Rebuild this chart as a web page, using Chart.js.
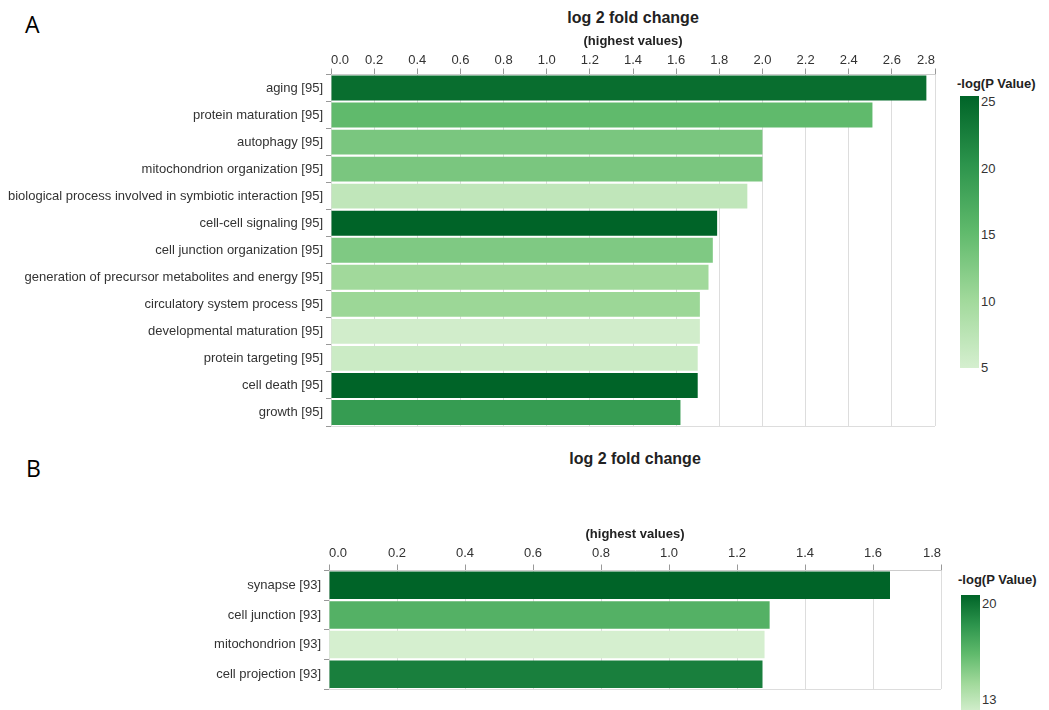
<!DOCTYPE html>
<html lang="en">
<head>
    <meta charset="UTF-8">
    <title>log 2 fold change</title>
    <style>
        body {
            margin: 0;
            padding: 0;
            background: #fff;
            font-family: "Liberation Sans", Arial, sans-serif;
            overflow: hidden;
        }
        #wrap {
            position: relative;
            width: 1049px;
            height: 710px;
            overflow: hidden;
        }
        .letter {
            position: absolute;
            font-family: "Open Sans", "Liberation Sans", sans-serif;
            font-size: 23px;
            color: #000;
        }
        .title {
            position: absolute;
            width: 300px;
            text-align: center;
            font-size: 16px;
            font-weight: bold;
            line-height: 20px;
            color: #222;
        }
        .box {
            position: absolute;
            left: 0;
        }
        .legend-title {
            position: absolute;
            font-size: 13px;
            font-weight: bold;
            color: #222;
            white-space: nowrap;
        }
        .colorbar {
            position: absolute;
            width: 19px;
        }
        .legend-label {
            position: absolute;
            font-size: 13px;
            color: #333;
            line-height: 14px;
        }
    </style>
    <script src="https://cdn.jsdelivr.net/npm/chart.js"></script>
</head>
<body>
<div id="wrap">
    <div class="letter" style="left:25px; top:8px;">A</div>
    <div class="title" style="left:483px; top:8px;">log 2 fold change</div>
    <div class="box" style="top:0;"><canvas id="chartA" width="945" height="440"></canvas></div>
    <div class="legend-title" style="left:957px; top:76px;">-log(P Value)</div>
    <div class="colorbar" id="barA" style="left:960px; top:96px; height:272px;"></div>
    <div id="labelsA"></div>

    <div class="letter" style="left:26px; top:452px;">B</div>
    <div class="title" style="left:485px; top:449px;">log 2 fold change</div>
    <div class="box" style="top:440px;"><canvas id="chartB" width="951" height="270"></canvas></div>
    <div class="legend-title" style="left:958px; top:572px;">-log(P Value)</div>
    <div class="colorbar" id="barB" style="left:961px; top:595px; height:118px;"></div>
    <div id="labelsB"></div>
</div>

<script>
    // Panel A - biological process
    const categoriesA = [
        'aging [95]',
        'protein maturation [95]',
        'autophagy [95]',
        'mitochondrion organization [95]',
        'biological process involved in symbiotic interaction [95]',
        'cell-cell signaling [95]',
        'cell junction organization [95]',
        'generation of precursor metabolites and energy [95]',
        'circulatory system process [95]',
        'developmental maturation [95]',
        'protein targeting [95]',
        'cell death [95]',
        'growth [95]'
    ];
    const foldChangeA = [2.76, 2.51, 2.00, 2.00, 1.93, 1.79, 1.77, 1.75, 1.71, 1.71, 1.70, 1.70, 1.62];
    const negLogPA = [24, 15, 13, 13, 7, 25, 12.6, 10, 10.4, 5.4, 6, 25, 19];
    const pRangeA = [5, 25];
    const legendTicksA = [25, 20, 15, 10, 5];

    // Panel B - cellular component
    const categoriesB = ['synapse [93]', 'cell junction [93]', 'mitochondrion [93]', 'cell projection [93]'];
    const foldChangeB = [1.65, 1.296, 1.281, 1.275];
    const negLogPB = [20, 16.9, 13, 19];
    const pRangeB = [13, 20];
    const legendTicksB = [20, 13];

    // greens colour ramp, light -> dark
    const greens = [
        [213, 239, 207],
        [161, 217, 155],
        [96, 186, 108],
        [44, 148, 76],
        [0, 100, 40]
    ];

    function greenAt(t) {
        t = Math.max(0, Math.min(1, t));
        const pos = t * (greens.length - 1);
        const i = Math.min(Math.floor(pos), greens.length - 2);
        const f = pos - i;
        const a = greens[i], b = greens[i + 1];
        const c = a.map((v, k) => Math.round(v + (b[k] - v) * f));
        return 'rgb(' + c.join(',') + ')';
    }

    function gradientCss() {
        const stops = [];
        for (let i = greens.length - 1; i >= 0; i--) {
            stops.push('rgb(' + greens[i].join(',') + ')');
        }
        return 'linear-gradient(to bottom, ' + stops.join(', ') + ')';
    }

    // light line along the bottom of the plot
    const frameLine = {
        id: 'frameLine',
        beforeDatasetsDraw(chart) {
            const a = chart.chartArea;
            const ctx = chart.ctx;
            ctx.save();
            ctx.strokeStyle = '#dddddd';
            ctx.lineWidth = 1;
            ctx.beginPath();
            ctx.moveTo(a.left, Math.round(a.bottom) + 0.5);
            ctx.lineTo(a.right, Math.round(a.bottom) + 0.5);
            ctx.stroke();
            ctx.restore();
        }
    };

    function makeChart(id, categories, values, pvals, prange, opts) {
        const colors = pvals.map(v => greenAt((v - prange[0]) / (prange[1] - prange[0])));
        const ctx = document.getElementById(id).getContext('2d');
        return new Chart(ctx, {
            type: 'bar',
            data: {
                labels: categories,
                datasets: [{
                    data: values,
                    backgroundColor: colors,
                    borderWidth: 0,
                    barPercentage: 1,
                    categoryPercentage: opts.catPct
                }]
            },
            plugins: [frameLine],
            options: {
                indexAxis: 'y',
                responsive: false,
                animation: false,
                layout: {
                    padding: { top: opts.padTop, right: opts.padRight, bottom: opts.padBottom, left: 0 }
                },
                plugins: {
                    legend: { display: false },
                    tooltip: { enabled: false }
                },
                scales: {
                    x: {
                        position: 'top',
                        min: 0,
                        max: opts.max,
                        afterFit: scale => { scale.height = opts.axisHeight; },
                        ticks: {
                            stepSize: 0.2,
                            align: 'inner',
                            padding: opts.tickPad,
                            color: '#333',
                            font: { family: 'Liberation Sans', size: 13 },
                            callback: v => v.toFixed(1)
                        },
                        grid: {
                            color: '#dddddd',
                            tickColor: '#999999',
                            tickLength: 6
                        },
                        border: { color: '#cccccc' },
                        title: {
                            display: true,
                            text: '(highest values)',
                            color: '#222',
                            font: { family: 'Liberation Sans', size: 13, weight: 'bold' },
                            padding: { top: opts.titlePad, bottom: 0 }
                        }
                    },
                    y: {
                        afterFit: scale => { scale.width = opts.yWidth; },
                        ticks: {
                            color: '#333',
                            padding: 3,
                            font: { family: 'Liberation Sans', size: 13 }
                        },
                        grid: {
                            drawOnChartArea: false,
                            tickColor: '#999999',
                            tickLength: 5
                        },
                        border: { display: false }
                    }
                }
            }
        });
    }

    function buildLegend(barId, labelsId, ticks, top, height, left) {
        document.getElementById(barId).style.background = gradientCss();
        const holder = document.getElementById(labelsId);
        const step = ticks.length > 1 ? (height - 4) / (ticks.length - 1) : 0;
        ticks.forEach((t, i) => {
            const el = document.createElement('div');
            el.className = 'legend-label';
            el.textContent = t;
            el.style.left = left + 'px';
            el.style.top = (top + i * step - 1) + 'px';
            holder.appendChild(el);
        });
    }

    makeChart('chartA', categoriesA, foldChangeA, negLogPA, pRangeA, {
        max: 2.8, catPct: 0.92, padTop: 26, padRight: 10, padBottom: 14,
        axisHeight: 48.5, tickPad: 0, titlePad: 8, yWidth: 331
    });
    makeChart('chartB', categoriesB, foldChangeB, negLogPB, pRangeB, {
        max: 1.8, catPct: 0.93, padTop: 70, padRight: 10, padBottom: 21,
        axisHeight: 60.5, tickPad: 3, titlePad: 17, yWidth: 329
    });

    buildLegend('barA', 'labelsA', legendTicksA, 96, 270, 981);
    buildLegend('barB', 'labelsB', legendTicksB, 598, 100, 982);
</script>
</body>
</html>
